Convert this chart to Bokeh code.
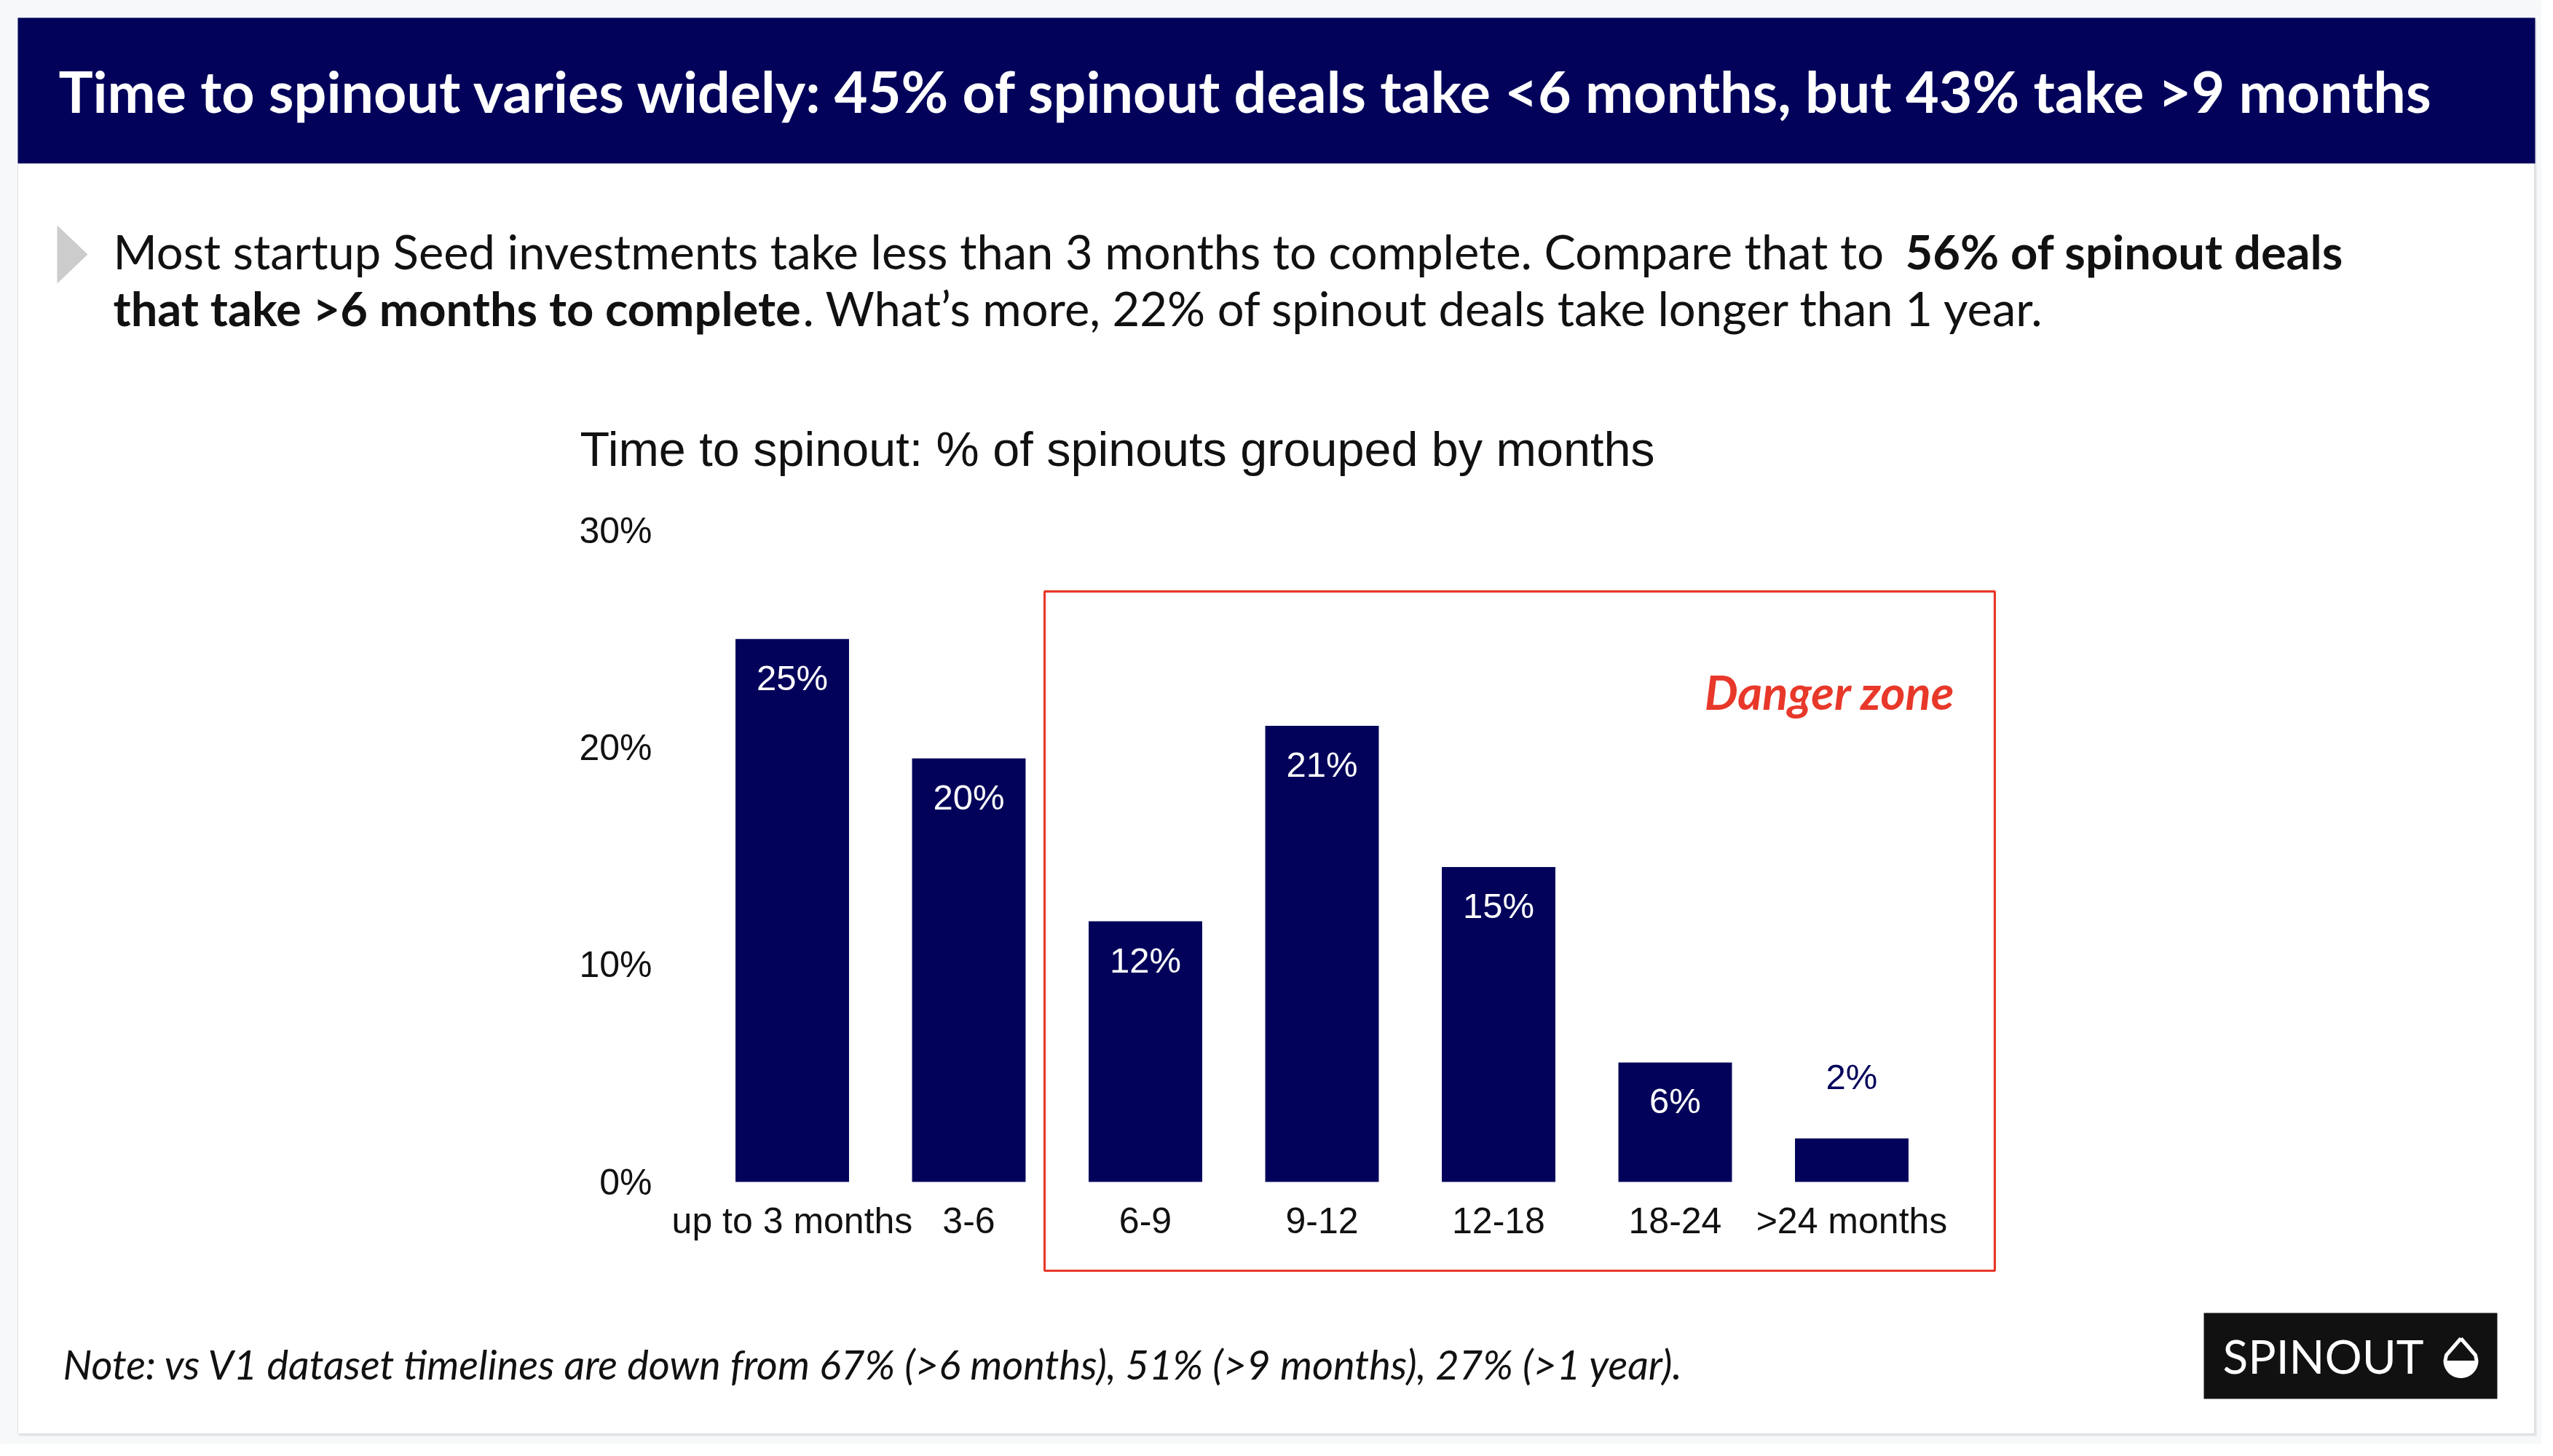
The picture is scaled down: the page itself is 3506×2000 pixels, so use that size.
import numpy as np
from bokeh.plotting import figure
from bokeh.models import Range1d, LinearAxis, FixedTicker, PrintfTickFormatter, ColumnDataSource
from bokeh.core.properties import value
from bokeh.embed import file_html
from bokeh.resources import INLINE

# ---------------- data ----------------
categories = ["up to 3 months", "3-6", "6-9", "9-12", "12-18", "18-24", ">24 months"]
shares = [25.0, 19.5, 12.0, 21.0, 14.5, 5.5, 2.0]
share_labels = ["25%", "20%", "12%", "21%", "15%", "6%", "2%"]
y_ticks = [0, 10, 20, 30]

TITLE = "Time to spinout varies widely: 45% of spinout deals take <6 months, but 43% take >9 months"
SUB1_REG = "Most startup Seed investments take less than 3 months to complete. Compare that to "
SUB1_BOLD = "56% of spinout deals"
SUB2_BOLD = "that take >6 months to complete"
SUB2_REG = ". What\u2019s more, 22% of spinout deals take longer than 1 year."
CHART_TITLE = "Time to spinout: % of spinouts grouped by months"
DANGER = "Danger zone"
NOTE = "Note: vs V1 dataset timelines are down from 67% (>6 months), 51% (>9 months), 27% (>1 year)."
LOGO = "SPINOUT"

# ---------------- styles / layout ----------------
NAVY = "#02025a"
RED = "#e8382a"
BG = "#f7f8fa"
W, H, OFF = 3490, 1984, 0
X0, DX = 1087.5, 242.5      # pixel x of first category, spacing
Y0, DY = 1623.0, 29.83      # pixel y of 0 %, pixels per percent

p = figure(width=W, height=H, x_range=Range1d(OFF, OFF + W), y_range=Range1d(OFF + H, OFF),
           x_axis_type=None, y_axis_type=None, toolbar_location=None, output_backend="svg",
           min_border=0, outline_line_color=None,
           background_fill_color=BG, border_fill_color=BG)
p.extra_x_ranges = {"cat": Range1d((OFF - X0) / DX, (OFF + W - X0) / DX)}
p.extra_y_ranges = {"pct": Range1d((Y0 - (OFF + H)) / DY, (Y0 - OFF) / DY)}

# card + shadow
p.quad(left=[26], right=[3483], top=[26], bottom=[1972], fill_color="#e3e4e7", line_color=None)
p.quad(left=[24], right=[3480], top=[24], bottom=[1969], fill_color="white", line_color="#dcdcdc", line_width=1)
# header band
p.quad(left=[24], right=[3481], top=[24], bottom=[224], fill_color=NAVY, line_color=None)
p.text(x=[80], y=[124], text=[TITLE], text_font=value("Lato"), text_font_style="bold",
       text_font_size="79px", text_color="white", text_baseline="middle")

# bullet + subtitle
p.patch(x=[78, 120, 78], y=[309, 349, 389], fill_color="#cccccc", line_color=None)
sub_font = dict(text_font=value("Lato"), text_font_size="65px", text_color="#111111",
                text_baseline="middle")
p.text(x=[155], y=[344], text=[SUB1_REG], **sub_font)
p.text(x=[2616], y=[344], text=[SUB1_BOLD], text_font_style="bold", **sub_font)
p.text(x=[155], y=[422], text=[SUB2_BOLD], text_font_style="bold", **sub_font)
p.text(x=[1102], y=[422], text=[SUB2_REG], **sub_font)

# chart title
p.text(x=[796], y=[616], text=[CHART_TITLE], text_font=value("Liberation Sans"),
       text_font_size="66.5px", text_color="#111111", text_baseline="middle")

# bars
idx = list(range(len(categories)))
lab_col = ["white" if v >= 4 else NAVY for v in shares]
lab_off = [53 if v >= 4 else -85 for v in shares]
src = ColumnDataSource(dict(i=idx, share=shares, label=share_labels, col=lab_col, off=lab_off))
p.vbar(x="i", top="share", bottom=0, width=0.643, source=src, x_range_name="cat", y_range_name="pct",
       fill_color=NAVY, line_color=None)
p.text(x="i", y="share", text="label", source=src, x_range_name="cat", y_range_name="pct",
       y_offset="off", text_color="col", text_align="center", text_baseline="middle",
       text_font=value("Liberation Sans"), text_font_size="49px")

# danger zone box
p.quad(left=[1.429], right=[6.81], top=[27.19], bottom=[-4.09], x_range_name="cat", y_range_name="pct",
       fill_color=None, line_color=RED, line_width=3.2)
p.text(x=[2684], y=[949], text=[DANGER], text_font=value("Lato"), text_font_style="bold italic",
       text_font_size="65px", text_color=RED, text_align="right", text_baseline="middle")

# axes
xax = LinearAxis(x_range_name="cat", y_range_name="pct", fixed_location=0,
                 ticker=FixedTicker(ticks=idx),
                 major_label_overrides={i: c for i, c in enumerate(categories)})
yax = LinearAxis(x_range_name="cat", y_range_name="pct", fixed_location=(907 - X0) / DX,
                 ticker=FixedTicker(ticks=y_ticks), formatter=PrintfTickFormatter(format="%d%%"))
for ax, so in ((xax, 19), (yax, 6)):
    ax.axis_line_color = None
    ax.major_tick_line_color = None
    ax.minor_tick_line_color = None
    ax.major_label_text_font = "Liberation Sans"
    ax.major_label_text_font_size = "50px"
    ax.major_label_text_color = "#111111"
    ax.major_label_standoff = so
p.add_layout(xax, "below")
p.add_layout(yax, "left")

# note
p.text(x=[86], y=[1873], text=[NOTE], text_font=value("Lato"), text_font_style="italic",
       text_font_size="56px", text_color="#111111", text_baseline="middle")

# logo
p.quad(left=[3026], right=[3429], top=[1803], bottom=[1921], fill_color="#111111", line_color=None)
p.text(x=[3052], y=[1862], text=[LOGO], text_font=value("Lato"), text_font_size="64px",
       text_color="white", text_baseline="middle")
cx, cy, r = 3379.0, 1868.5, 21.5
t = np.linspace(0, np.pi, 40)
p.patch(x=list(cx + r * np.cos(t)), y=list(cy + r * np.sin(t)), fill_color="white", line_color=None)
ox = [cx] + [cx - 20] + list(cx - r * np.cos(t)) + [cx + 20, cx]
oy = [1838] + [1861] + list(cy + r * np.sin(t)) + [1861, 1838]
p.line(x=ox, y=oy, line_color="white", line_width=5, line_join="round")

open("out.html", "w").write(file_html(p, INLINE))
